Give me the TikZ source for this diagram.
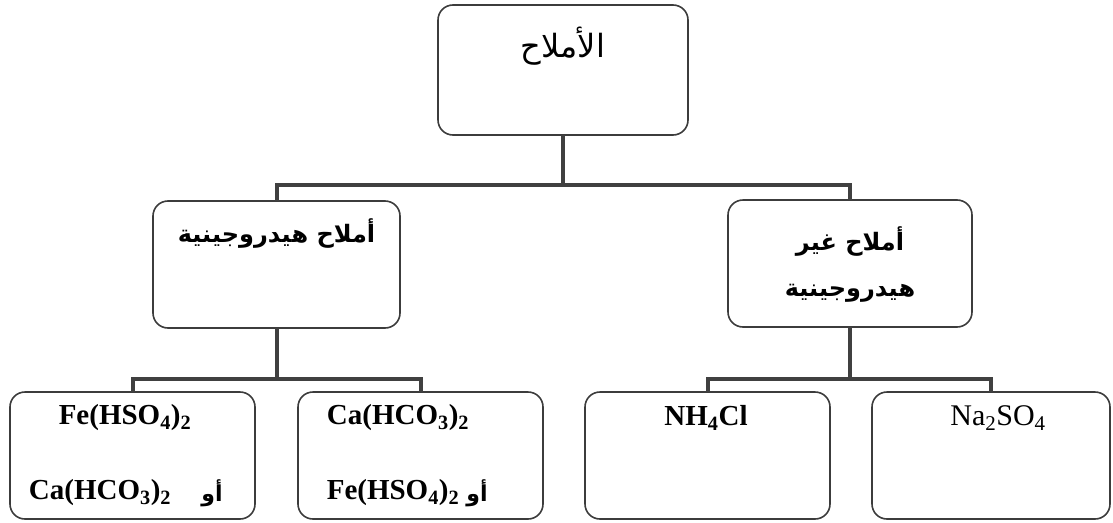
\documentclass[tikz,border=0pt]{standalone}
\usepackage{fontspec}
\setmainfont{Liberation Serif}
\newfontfamily\arabicfont[Script=Arabic]{DejaVu Sans}
\TeXXeTstate=1
\definecolor{boxc}{HTML}{3C3C3C}
\definecolor{linec}{HTML}{404040}
\newcommand{\artxt}[1]{{\arabicfont\beginR #1\endR}}
\newcommand{\chsub}[1]{\textsubscript{#1}}
\begin{document}
\begin{tikzpicture}[x=1pt,y=-1pt,
  box/.style={draw=boxc, line width=1.6pt, rounded corners=15pt, rectangle,
    inner sep=0pt, outer sep=0pt, minimum height=127pt},
  conn/.style={draw=linec, line width=4pt, line join=miter},
  chem/.style={font=\fontsize{29}{33}\selectfont\bfseries, inner sep=0pt},
  chemr/.style={font=\fontsize{30}{34}\selectfont, inner sep=0pt},
  arb/.style={font=\fontsize{24}{28}\selectfont\bfseries, inner sep=0pt},
  aror/.style={font=\fontsize{22}{26}\selectfont\bfseries, inner sep=0pt},
  arr/.style={font=\fontsize{32}{36}\selectfont, inner sep=0pt}]
\useasboundingbox (0,0) rectangle (1113,522);
% boxes
\node[box, minimum width=250pt, minimum height=130pt] (top) at (563,70) {};
\node[box, minimum width=247pt] (midL) at (276.5,264.5) {};
\node[box, minimum width=244pt] (midR) at (850,263.5) {};
\node[box, minimum width=245pt] (b1) at (132.5,455.5) {};
\node[box, minimum width=245pt] (b2) at (420.5,455.5) {};
\node[box, minimum width=245pt] (b3) at (707.5,455.5) {};
\node[box, minimum width=238pt] (b4) at (991,455.5) {};
% junctions
\coordinate (j1) at (563,185);
\coordinate (jL) at (276.5,379);
\coordinate (jR) at (850,379);
% connectors
\draw[conn] (top.south) -- (j1);
\draw[conn] (midL.north) -- (midL.north |- j1) -- (midR.north |- j1) -- (midR.north);
\draw[conn] (midL.south) -- (jL);
\draw[conn] (b1.north) -- (b1.north |- jL) -- (b2.north |- jL) -- (b2.north);
\draw[conn] (midR.south) -- (jR);
\draw[conn] (b3.north) -- (b3.north |- jR) -- (b4.north |- jR) -- (b4.north);
% labels
\node[arr] (tTop) at (563,46) {\artxt{الأملاح}};
\node[arb] (tL) at (276.5,234) {\artxt{أملاح هيدروجينية}};
\node[arb] (tR1) at (850,242) {\artxt{أملاح غير}};
\node[arb] (tR2) at (850,293) {\artxt{هيدروجينية}};
\node[chem] (t11) at (125,418) {Fe(HSO\chsub{4})\chsub{2}};
\node[chem] (t12) at (100,493) {Ca(HCO\chsub{3})\chsub{2}};
\node[aror] (t13) at (212,493) {\artxt{أو}};
\node[chem] (t21) at (398,418) {Ca(HCO\chsub{3})\chsub{2}};
\node[chem] (t22) at (393,493) {Fe(HSO\chsub{4})\chsub{2}};
\node[aror] (t23) at (477,493) {\artxt{أو}};
\node[chem] (t31) at (706,418) {NH\chsub{4}Cl};
\node[chemr] (t41) at (998,418) {Na\chsub{2}SO\chsub{4}};
\end{tikzpicture}
\end{document}
